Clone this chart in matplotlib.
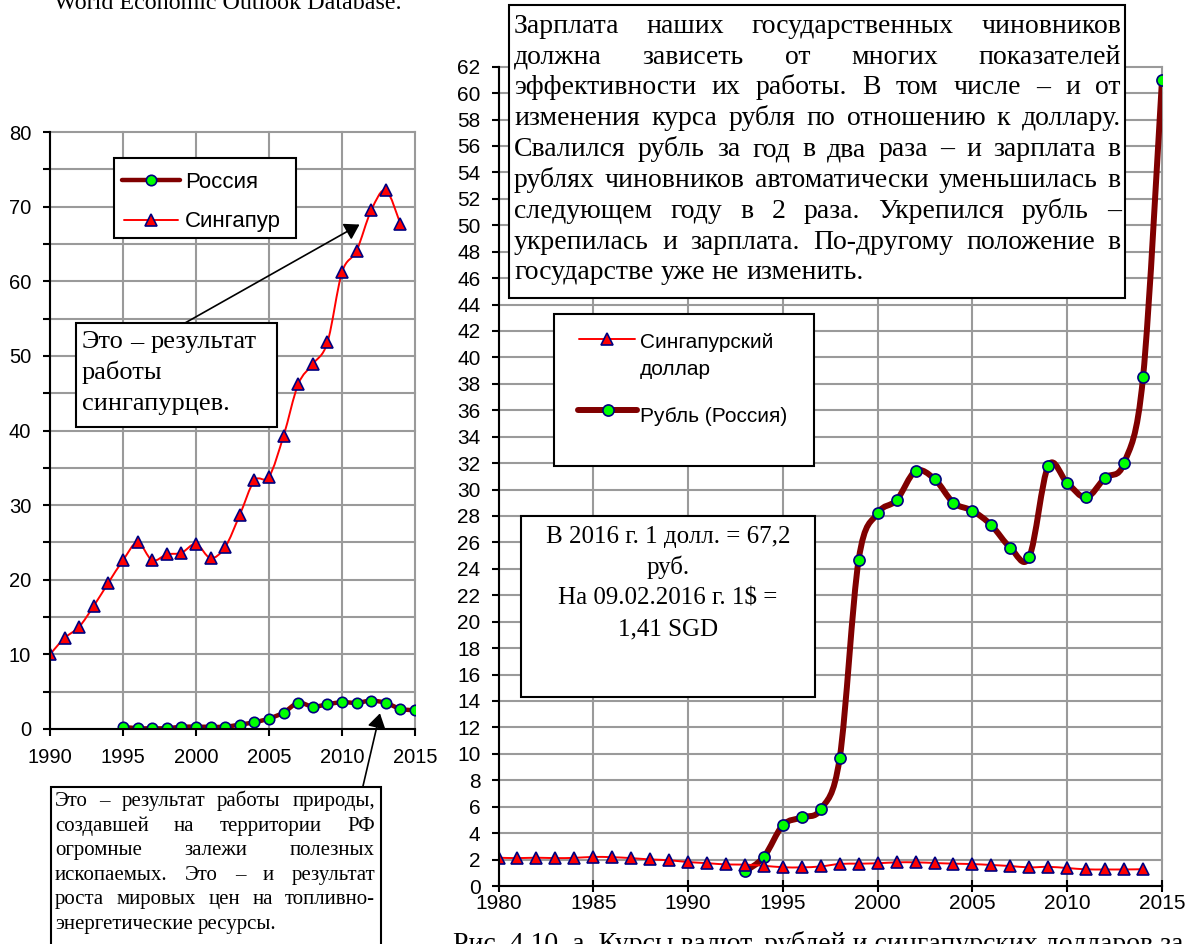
import matplotlib
matplotlib.use('Agg')
import matplotlib.pyplot as plt
from matplotlib.path import Path
from matplotlib.patches import PathPatch, Rectangle
from matplotlib.lines import Line2D

SERIF = 'Liberation Serif'
SANS = 'Liberation Sans'
plt.rcParams['font.family'] = [SANS, 'DejaVu Sans']

#Left chart: GDP per capita, thousand US$
gdp_years_sg = list(range(1990, 2015))
gdp_singapore = [10.0, 12.2, 13.7, 16.5, 19.6, 22.6, 25.0, 22.6, 23.4, 23.6,
                 24.8, 22.9, 24.4, 28.7, 33.3, 33.8, 39.3, 46.2, 48.9, 51.8,
                 61.2, 64.1, 69.5, 72.2, 67.7]
gdp_years_ru = list(range(1995, 2016))
gdp_russia = [0.3, 0.1, 0.1, 0.1, 0.3, 0.3, 0.3, 0.3, 0.6, 0.9, 1.4,
              2.2, 3.5, 3.0, 3.3, 3.6, 3.5, 3.8, 3.5, 2.7, 2.5]
gdp_xticks = [1990, 1995, 2000, 2005, 2010, 2015]
gdp_yticks = [0, 5, 10, 15, 20, 25, 30, 35, 40, 45, 50, 55, 60, 65, 70, 75, 80]

#Right chart: national currency per US dollar
fx_years_sg = list(range(1980, 2015))
fx_sgd = [2.14, 2.11, 2.14, 2.11, 2.13, 2.20, 2.18, 2.11, 2.01, 1.95,
          1.81, 1.73, 1.63, 1.62, 1.53, 1.42, 1.41, 1.48, 1.67, 1.69,
          1.72, 1.79, 1.79, 1.74, 1.69, 1.66, 1.59, 1.51, 1.41, 1.45,
          1.36, 1.26, 1.25, 1.25, 1.27]
fx_years_ru = list(range(1993, 2016))
fx_rub = [1.1, 2.2, 4.6, 5.2, 5.8, 9.7, 24.7, 28.2, 29.2, 31.4, 30.8, 29.0,
          28.4, 27.3, 25.6, 24.9, 31.8, 30.5, 29.4, 30.9, 32.0, 38.5, 61.0]
fx_xticks = [1980, 1985, 1990, 1995, 2000, 2005, 2010, 2015]
fx_yticks = list(range(0, 63, 2))

legend_left = ['Россия', 'Сингапур']
legend_right = ['Сингапурский', 'доллар', 'Рубль (Россия)']

note_singapore = ['Это – результат', 'работы', 'сингапурцев.']
note_nature = ['Это – результат работы природы,',
               'создавшей на территории РФ',
               'огромные залежи полезных',
               'ископаемых. Это – и результат',
               'роста мировых цен на топливно-',
               'энергетические ресурсы.']
note_salary = ['Зарплата наших государственных чиновников',
               'должна зависеть от многих показателей',
               'эффективности их работы. В том числе – и от',
               'изменения курса рубля по отношению к доллару.',
               'Свалился рубль за год в два раза – и зарплата в',
               'рублях чиновников автоматически уменьшилась в',
               'следующем году в 2 раза. Укрепился рубль –',
               'укрепилась и зарплата. По-другому положение в',
               'государстве уже не изменить.']
note_rate = ['В 2016 г. 1 долл. = 67,2', 'руб.', 'На 09.02.2016 г. 1$ =', '1,41 SGD']
source_text = 'World Economic Outlook Database.'
caption_text = 'Рис. 4.10. а. Курсы валют, рублей и сингапурских долларов за'

RUS_LINE = '#800000'
RUS_MARK = '#00FF00'
EDGE = '#000080'
SG_LINE = '#FF0000'
GRID = '#9A9A9A'

W, H = 1204, 944


#Pixel (from top left) to figure fraction
def fx(x):
    return x / W

def fy(y):
    return 1 - y / H


#Smoothed line like in Excel (cubic Bezier through the points)
def smooth_path(xs, ys):
    verts = [(xs[0], ys[0])]
    codes = [Path.MOVETO]
    n = len(xs)
    for i in range(n - 1):
        a = max(i - 1, 0)
        d = min(i + 2, n - 1)
        c1 = (xs[i] + (xs[i+1] - xs[a]) / 6, ys[i] + (ys[i+1] - ys[a]) / 6)
        c2 = (xs[i+1] - (xs[d] - xs[i]) / 6, ys[i+1] - (ys[d] - ys[i]) / 6)
        verts += [c1, c2, (xs[i+1], ys[i+1])]
        codes += [Path.CURVE4] * 3
    return Path(verts, codes)


def draw_series(ax, xs, ys, color, lw, marker, msize, mface):
    ax.add_patch(PathPatch(smooth_path(xs, ys), fill=False, edgecolor=color,
                           linewidth=lw, capstyle='round', joinstyle='round', zorder=3))
    ax.plot(xs, ys, linestyle='none', marker=marker, markersize=msize,
            markerfacecolor=mface, markeredgecolor=EDGE, markeredgewidth=1.2, zorder=4)


def style_axes(ax, size):
    for s in ['top', 'right']:
        ax.spines[s].set_visible(False)
    for s in ['left', 'bottom']:
        ax.spines[s].set_linewidth(1.5)
        ax.spines[s].set_zorder(5)
    ax.grid(True, color=GRID, linewidth=1.5)
    ax.set_axisbelow(True)
    for gl in ax.get_xgridlines() + ax.get_ygridlines():
        gl.set_clip_on(False)
    for lab in ax.get_xticklabels() + ax.get_yticklabels():
        lab.set_fontsize(size)


#White box with black frame, pixel coordinates
def px_box(fig, x0, y0, x1, y1):
    fig.add_artist(Rectangle((fx(x0), fy(y1)), fx(x1 - x0), (y1 - y0) / H,
                             transform=fig.transFigure, facecolor='white',
                             edgecolor='black', linewidth=1.5, zorder=4))


#Lines of text placed one by one (justify / left / center)
def draw_lines(fig, renderer, lines, x0, x1, base0, step, size, mode):
    space = size * 100 / 72 * 0.25
    for k, line in enumerate(lines):
        base = base0 + k * step
        if mode == 'center':
            fig.text(fx((x0 + x1) / 2), fy(base), line, fontsize=size, family=SERIF,
                     ha='center', va='baseline', zorder=6)
            continue
        words = line.split(' ')
        texts = [fig.text(0, fy(base), w, fontsize=size, family=SERIF,
                          ha='left', va='baseline', zorder=6) for w in words]
        widths = [t.get_window_extent(renderer).width for t in texts]
        gap = space
        if mode == 'justify' and k < len(lines) - 1 and len(words) > 1:
            gap = (x1 - x0 - sum(widths)) / (len(words) - 1)
        x = x0
        for t, wd in zip(texts, widths):
            t.set_x(fx(x))
            x += wd + gap


def legend_entry(fig, x0, x1, y, color, lw, marker, msize, mface):
    fig.add_artist(Line2D([fx(x0), fx(x1)], [fy(y), fy(y)], transform=fig.transFigure,
                          color=color, linewidth=lw, solid_capstyle='round', zorder=6))
    fig.add_artist(Line2D([fx((x0 + x1) / 2)], [fy(y)], transform=fig.transFigure,
                          linestyle='none', marker=marker, markersize=msize,
                          markerfacecolor=mface, markeredgecolor=EDGE,
                          markeredgewidth=1.2, zorder=7))


def main():
    fig = plt.figure(figsize=(W / 100, H / 100), dpi=100)
    renderer = fig.canvas.get_renderer()

    #Left chart
    axl = fig.add_axes([fx(50), fy(729), fx(365), 597 / H])
    axl.set_xlim(1990, 2015)
    axl.set_ylim(0, 80)
    axl.set_xticks(gdp_xticks)
    axl.set_xticklabels([str(v) for v in gdp_xticks])
    axl.set_yticks(gdp_yticks)
    axl.set_yticklabels([str(v) if v % 10 == 0 else '' for v in gdp_yticks])
    axl.tick_params(axis='both', direction='out', length=5, width=1.5, color='black')
    axl.tick_params(axis='y', pad=8.5)
    axl.tick_params(axis='x', pad=9)
    style_axes(axl, 14.5)
    draw_series(axl, gdp_years_ru, gdp_russia, RUS_LINE, 3.2, 'o', 7.5, RUS_MARK)
    draw_series(axl, gdp_years_sg, gdp_singapore, SG_LINE, 1.4, '^', 9, SG_LINE)

    axl.annotate('', xy=(2011.2, 67.6), xytext=(185, H - 323), textcoords='figure pixels',
                 arrowprops=dict(arrowstyle='-|>,head_length=0.4,head_width=0.25',
                                 color='black', lw=1.2, mutation_scale=22,
                                 shrinkA=0, shrinkB=0), zorder=6)
    axl.annotate('', xy=(2012.6, 2.1), xytext=(363, H - 786), textcoords='figure pixels',
                 arrowprops=dict(arrowstyle='-|>,head_length=0.4,head_width=0.25',
                                 color='black', lw=1.2, mutation_scale=22,
                                 shrinkA=0, shrinkB=0), annotation_clip=False, zorder=6)

    #Right chart
    axr = fig.add_axes([fx(498.5), fy(886), fx(663.5), 819.3 / H])
    axr.set_xlim(1980, 2015)
    axr.set_ylim(0, 62)
    axr.set_xticks(fx_xticks)
    axr.set_xticklabels([str(v) for v in fx_xticks])
    axr.set_yticks(fx_yticks)
    axr.set_yticklabels([str(v) for v in fx_yticks])
    axr.tick_params(axis='x', direction='inout', length=8, width=1.5, pad=1.5)
    axr.tick_params(axis='y', direction='out', length=5, width=1.5, pad=8)
    style_axes(axr, 15)
    draw_series(axr, fx_years_ru, fx_rub, RUS_LINE, 4.3, 'o', 8, RUS_MARK)
    draw_series(axr, fx_years_sg, fx_sgd, SG_LINE, 1.4, '^', 9, SG_LINE)

    #Left legend
    px_box(fig, 114, 158, 296, 238)
    legend_entry(fig, 122, 180, 180, RUS_LINE, 3.2, 'o', 7.5, RUS_MARK)
    legend_entry(fig, 124, 178, 219.5, SG_LINE, 1.4, '^', 9, SG_LINE)
    fig.text(fx(185), fy(187.7), legend_left[0], fontsize=16, va='baseline', zorder=6)
    fig.text(fx(185), fy(227.3), legend_left[1], fontsize=16, va='baseline', zorder=6)

    #Right legend
    px_box(fig, 554, 314, 814, 466)
    legend_entry(fig, 579, 635, 339, SG_LINE, 1.4, '^', 9, SG_LINE)
    legend_entry(fig, 578, 637, 410, RUS_LINE, 4.3, 'o', 8, RUS_MARK)
    fig.text(fx(640), fy(347.7), legend_right[0], fontsize=15, va='baseline', zorder=6)
    fig.text(fx(640), fy(375), legend_right[1], fontsize=15, va='baseline', zorder=6)
    fig.text(fx(640), fy(421.7), legend_right[2], fontsize=15, va='baseline', zorder=6)

    #Text boxes
    px_box(fig, 76, 323, 277, 427)
    draw_lines(fig, renderer, note_singapore, 82, 272, 348.3, 30.8, 19, 'left')

    px_box(fig, 51, 787, 381, 990)
    draw_lines(fig, renderer, note_nature, 55, 375, 806, 24.6, 15, 'justify')

    px_box(fig, 509, 5, 1125, 298)
    draw_lines(fig, renderer, note_salary, 514, 1121, 32.7, 30.84, 20, 'justify')

    px_box(fig, 521, 516, 815, 697)
    draw_lines(fig, renderer, note_rate, 521, 815, 542.7, 30.9, 18, 'center')

    #Source text at top and caption at bottom (both cut by the page)
    fig.text(fx(54), fy(9), source_text, fontsize=17.3, family=SERIF, va='baseline')
    fig.text(fx(453), fy(951), caption_text, fontsize=20, family=SERIF, va='baseline')

    fig.savefig('out.png', dpi=100)


if __name__ == '__main__':
    main()
